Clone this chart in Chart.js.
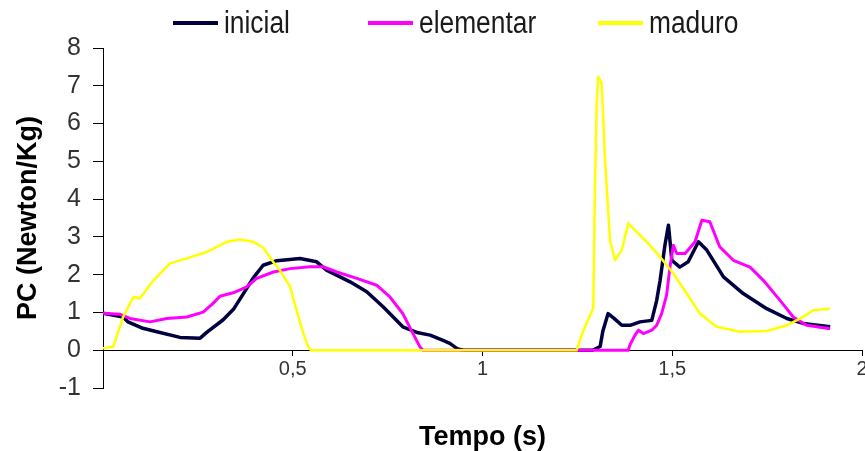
<!DOCTYPE html>
<html>
<head>
<meta charset="utf-8">
<script src="https://cdn.jsdelivr.net/npm/chart.js@4.4.1/dist/chart.umd.min.js"></script>
<style>
  html, body { margin: 0; padding: 0; background: #fff; }
  #wrap { position: relative; width: 865px; height: 451px; }
  #legend { position: absolute; top: 0; left: 0; width: 865px; height: 46px;
    font-family: "Liberation Sans", Arial, sans-serif;
    font-size: 31px; color: #1a1a1a; }
  .item { position: absolute; top: 6px; height: 34px; display: flex; align-items: center; white-space: nowrap; }
  .swatch { width: 45px; height: 4px; margin-right: 6px; }
  .label { display: inline-block; transform: scaleX(0.85); transform-origin: left center; }
</style>
</head>
<body>
<div id="wrap">
  <canvas id="chart" width="865" height="451"></canvas>
  <div id="legend"></div>
</div>
<script>
// series (time in s, PC in Newton/Kg)
const seriesNames = ["inicial", "elementar", "maduro"];
const seriesColors = ["#000040", "#ff00ff", "#ffff00"];

const inicialT = [0, 0.053, 0.066, 0.105, 0.142, 0.203, 0.256, 0.274, 0.316, 0.345, 0.370, 0.395, 0.422, 0.458, 0.519,
  0.563, 0.589, 0.651, 0.695, 0.738, 0.79, 0.827, 0.862, 0.896, 0.914, 0.935, 0.95, 1.29, 1.31, 1.317,
  1.331, 1.346, 1.367, 1.389, 1.415, 1.446, 1.459, 1.468, 1.481, 1.49, 1.499, 1.52, 1.542, 1.569, 1.591,
  1.635, 1.687, 1.749, 1.802, 1.845, 1.916];
const inicialV = [0.98, 0.88, 0.75, 0.58, 0.49, 0.34, 0.32, 0.48, 0.8, 1.1, 1.5, 1.9, 2.25, 2.37, 2.43,
  2.34, 2.12, 1.81, 1.55, 1.15, 0.62, 0.47, 0.40, 0.26, 0.18, 0.03, 0, 0, 0.1, 0.5,
  0.97, 0.85, 0.66, 0.66, 0.75, 0.79, 1.32, 1.85, 2.8, 3.31, 2.38, 2.2, 2.34, 2.87, 2.65,
  1.94, 1.5, 1.1, 0.84, 0.71, 0.62];

const elementarT = [0, 0.045, 0.071, 0.124, 0.168, 0.221, 0.264, 0.29, 0.308, 0.343, 0.379, 0.405, 0.449, 0.493, 0.546,
  0.58, 0.616, 0.669, 0.721, 0.756, 0.79, 0.817, 0.835, 0.843, 1.384, 1.389, 1.402, 1.411, 1.424, 1.446,
  1.459, 1.472, 1.485, 1.494, 1.503, 1.512, 1.534, 1.56, 1.578, 1.599, 1.625, 1.661, 1.705, 1.74, 1.784,
  1.819, 1.854, 1.916];
const elementarV = [0.98, 0.95, 0.84, 0.75, 0.84, 0.88, 1.01, 1.24, 1.43, 1.52, 1.68, 1.9, 2.07, 2.16, 2.21,
  2.21, 2.07, 1.9, 1.72, 1.41, 0.97, 0.44, 0.09, 0, 0, 0.15, 0.4, 0.53, 0.44, 0.53,
  0.66, 0.97, 1.45, 2.2, 2.78, 2.56, 2.56, 2.87, 3.44, 3.4, 2.74, 2.38, 2.2, 1.85, 1.32,
  0.88, 0.66, 0.57];

const maduroT = [0, 0.027, 0.053, 0.08, 0.097, 0.133, 0.177, 0.221, 0.273, 0.326, 0.361, 0.396, 0.422, 0.445, 0.466,
  0.493, 0.51, 0.528, 0.541, 0.548, 1.248, 1.266, 1.292, 1.296, 1.301, 1.305, 1.314, 1.323, 1.336, 1.349,
  1.367, 1.384, 1.402, 1.433, 1.468, 1.503, 1.538, 1.573, 1.617, 1.679, 1.749, 1.802, 1.845, 1.871, 1.916];
const maduroV = [0.05, 0.09, 0.88, 1.41, 1.37, 1.85, 2.3, 2.43, 2.6, 2.87, 2.93, 2.87, 2.72, 2.38, 2.12,
  1.68, 1.06, 0.44, 0.09, 0, 0, 0.53, 1.12, 4.15, 6.53, 7.24, 7.07, 5.03, 2.91, 2.38,
  2.65, 3.36, 3.18, 2.87, 2.47, 2.03, 1.5, 0.97, 0.62, 0.49, 0.51, 0.66, 0.88, 1.06, 1.1];

// axis ticks
const xTicks = [0, 0.5, 1, 1.5, 2];
const xTickLabels = ["", "0,5", "1", "1,5", "2"];
const yTicks = [-1, 0, 1, 2, 3, 4, 5, 6, 7, 8];
const yTickLabels = ["-1", "0", "1", "2", "3", "4", "5", "6", "7", "8"];

const FONT = "'Liberation Sans', Arial, sans-serif";

function toPoints(ts, vs) {
  return ts.map((t, i) => ({ x: t, y: vs[i] }));
}

const seriesData = [
  toPoints(inicialT, inicialV),
  toPoints(elementarT, elementarV),
  toPoints(maduroT, maduroV)
];
const lineWidths = [3.5, 3, 2.5];

// HTML legend
const legendLeft = [173, 368, 598];
const legendEl = document.getElementById("legend");
seriesNames.forEach((name, i) => {
  const item = document.createElement("div");
  item.className = "item";
  item.style.left = legendLeft[i] + "px";
  const sw = document.createElement("span");
  sw.className = "swatch";
  sw.style.background = seriesColors[i];
  const txt = document.createElement("span");
  txt.className = "label";
  txt.textContent = name;
  item.appendChild(sw);
  item.appendChild(txt);
  legendEl.appendChild(item);
});

new Chart(document.getElementById("chart"), {
  type: "line",
  data: {
    datasets: seriesNames.map((name, i) => ({
      label: name,
      data: seriesData[i],
      borderColor: seriesColors[i],
      backgroundColor: seriesColors[i],
      borderWidth: lineWidths[i],
      pointRadius: 0,
      tension: 0,
      fill: false,
      borderJoinStyle: "round",
      order: 2 - i
    }))
  },
  options: {
    responsive: false,
    animation: false,
    layout: { padding: { top: 48, right: 3, bottom: 0, left: 0 } },
    plugins: { legend: { display: false }, tooltip: { enabled: false } },
    scales: {
      x: {
        type: "linear",
        min: 0,
        max: 2,
        position: { y: 0 },
        afterBuildTicks: (s) => { s.ticks = xTicks.map(v => ({ value: v })); },
        afterFit: (s) => { s.paddingRight = 0; },
        ticks: {
          autoSkip: false,
          maxRotation: 0,
          padding: 2,
          color: "#333",
          font: { family: FONT, size: 20 },
          callback: (v, i) => xTickLabels[i]
        },
        grid: { drawOnChartArea: false, drawTicks: true, tickLength: 5, color: "#000" },
        border: { color: "#000", width: 1 }
      },
      xTitle: {
        type: "linear",
        position: "bottom",
        min: 0,
        max: 2,
        ticks: { display: false },
        grid: { display: false, drawTicks: false },
        border: { display: false },
        title: {
          display: true,
          text: "Tempo (s)",
          color: "#000",
          font: { family: FONT, size: 27, weight: "bold", lineHeight: 1 },
          padding: { top: 0, bottom: 0 }
        },
        afterFit: (s) => { s.height = 63; s.paddingRight = 0; }
      },
      y: {
        min: -1,
        max: 8,
        afterBuildTicks: (s) => { s.ticks = yTicks.map(v => ({ value: v })); },
        ticks: {
          padding: 12,
          color: "#333",
          font: { family: FONT, size: 25 },
          callback: (v, i) => yTickLabels[i]
        },
        grid: { drawOnChartArea: false, drawTicks: true, tickLength: 10, color: "#000" },
        border: { color: "#000", width: 1 },
        title: {
          display: true,
          text: "PC (Newton/Kg)",
          color: "#000",
          font: { family: FONT, size: 27, weight: "bold" },
          padding: { top: 12, bottom: 0 }
        },
        afterFit: (s) => { s.width = 103; }
      }
    }
  }
});
</script>
</body>
</html>
